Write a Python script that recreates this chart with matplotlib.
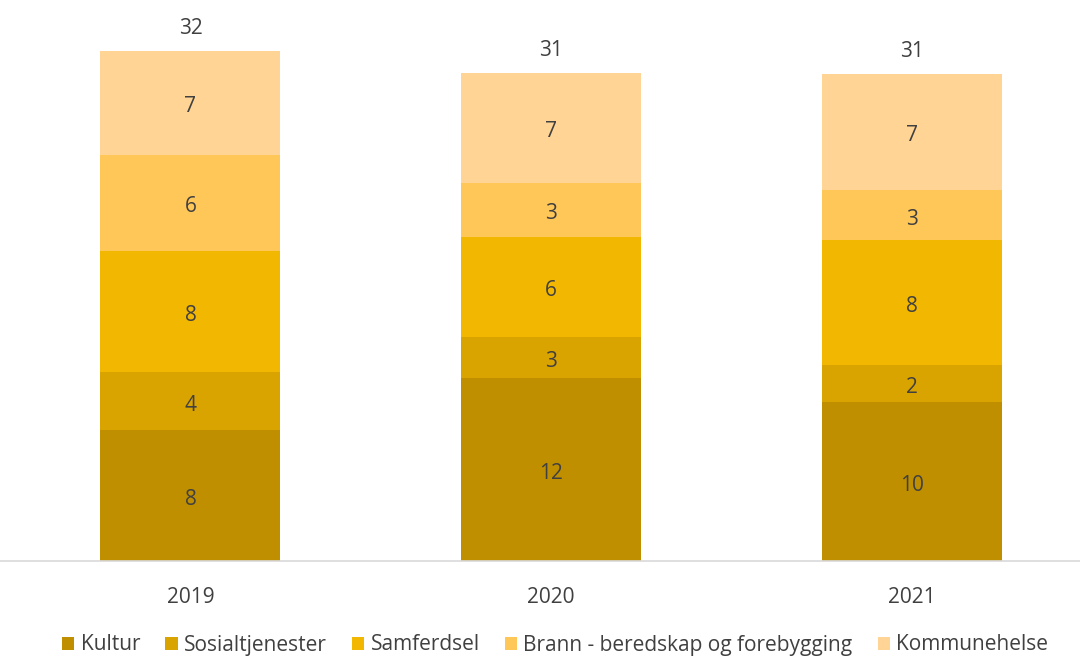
import matplotlib
matplotlib.use("Agg")
import matplotlib.pyplot as plt
from matplotlib.patches import Patch
import numpy as np

years = ["2019", "2020", "2021"]
series = ["Kultur", "Sosialtjenester", "Samferdsel", "Brann - beredskap og forebygging", "Kommunehelse"]
kultur = [8.3, 11.6, 10.1]
sosial = [3.7, 2.6, 2.35]
samferdsel = [7.7, 6.4, 7.9]
brann = [6.1, 3.4, 3.2]
kommunehelse = [6.6, 7.0, 7.4]
colors = ["#BF8F00", "#D9A300", "#F2B700", "#FFC658", "#FFD494"]

plt.rcParams['font.family'] = ['Open Sans', 'DejaVu Sans']
fig = plt.figure(figsize=(10.8, 6.57), dpi=100)
ax = fig.add_axes([0.0, 96/657, 1.0, 541/657])
x = np.arange(len(years))
bottom = np.zeros(len(years))
data = [kultur, sosial, samferdsel, brann, kommunehelse]
for vals, col, name in zip(data, colors, series):
    vals = np.array(vals)
    ax.bar(x, vals, width=180/360.75, bottom=bottom, color=col, label=name)
    for xi, v, b in zip(x, vals, bottom):
        ax.text(xi, b + v / 2 - 0.25, f"{v:.0f}", ha="center", va="center", fontsize=15, color="#404040")
    bottom += vals
for xi, t in zip(x, bottom):
    ax.text(xi, t + 0.75, f"{t:.0f}", ha="center", va="bottom", fontsize=15, color="#404040")

ax.set_xlim(-0.528, 2.466)
ax.set_ylim(0, 541/15.75)
ax.set_yticks([])
ax.set_xticks(x)
ax.set_xticklabels(years, fontsize=15, color="#404040")
ax.tick_params(axis="x", length=0, pad=19)
for s in ["top", "right", "left"]:
    ax.spines[s].set_visible(False)
ax.spines["bottom"].set_color("#D9D9D9")
ax.spines["bottom"].set_linewidth(1.2)

handles = [Patch(facecolor=c, label=n) for c, n in zip(colors, series)]
fig.legend(handles=handles, loc="center", bbox_to_anchor=(0.514, 12/657), ncol=5, frameon=False,
           fontsize=15, handlelength=0.6, handleheight=0.6, handletextpad=0.3, columnspacing=1.2,
           labelcolor="#404040")
fig.savefig("out.png", dpi=100)
